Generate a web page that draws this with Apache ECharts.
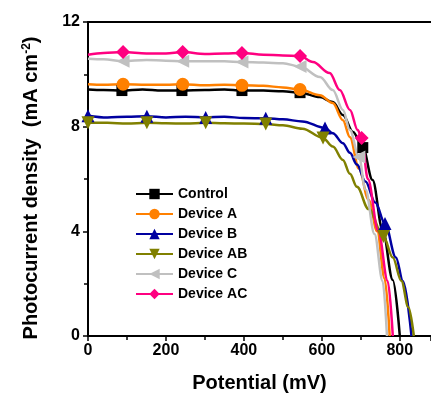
<!DOCTYPE html>
<html>
<head>
<meta charset="utf-8">
<script src="https://cdn.jsdelivr.net/npm/echarts@6/dist/echarts.min.js"></script>
<style>
  html, body { margin: 0; padding: 0; background: #fff; }
  #chart { width: 431px; height: 396px; }
</style>
</head>
<body>
<div id="chart"></div>
<script>
// J-V curves, potential in mV, current density in mA cm-2
const controlV = [0, 40, 87, 140, 190, 241, 300, 350, 395, 450, 500, 544, 595, 628, 654, 680, 705, 730, 756, 782, 800];
const controlJ = [9.42, 9.4, 9.38, 9.42, 9.38, 9.38, 9.4, 9.42, 9.38, 9.38, 9.35, 9.3, 9.13, 8.94, 8.45, 7.8, 7.2, 5.96, 4.05, 2.14, 0];
const controlMarks = [87, 241, 395, 544, 705];

const deviceAV = [0, 40, 90, 150, 200, 243, 300, 350, 395, 450, 500, 544, 595, 628, 654, 672, 695, 720, 742, 761, 774];
const deviceAJ = [9.62, 9.6, 9.62, 9.6, 9.6, 9.62, 9.58, 9.6, 9.58, 9.56, 9.5, 9.42, 9.2, 8.9, 8.25, 7.6, 6.4, 5.2, 4.0, 2.2, 0];
const deviceAMarks = [90, 243, 395, 544];

const deviceBV = [0, 50, 100, 151, 200, 250, 302, 350, 400, 456, 500, 550, 608, 628, 654, 672, 690, 712, 737, 762, 790, 808, 830];
const deviceBJ = [8.42, 8.35, 8.38, 8.4, 8.35, 8.38, 8.35, 8.38, 8.33, 8.32, 8.28, 8.2, 7.95, 7.75, 7.37, 7.0, 6.55, 5.9, 5.1, 4.3, 3.0, 2.1, 0];
const deviceBMarks = [0, 151, 302, 456, 608, 762];

const deviceABV = [0, 50, 100, 151, 200, 250, 302, 350, 400, 456, 500, 550, 603, 628, 654, 672, 690, 720, 758, 782, 804, 822, 836];
const deviceABJ = [8.15, 8.15, 8.12, 8.15, 8.13, 8.12, 8.15, 8.13, 8.12, 8.1, 8.05, 7.92, 7.57, 7.24, 6.73, 6.2, 5.7, 4.85, 3.8, 3.0, 2.1, 1.1, 0];
const deviceABMarks = [0, 151, 302, 456, 603, 758];

const deviceCV = [0, 40, 90, 150, 200, 243, 300, 350, 395, 450, 500, 544, 595, 628, 654, 672, 695, 712, 735, 756, 767];
const deviceCJ = [10.6, 10.58, 10.5, 10.55, 10.52, 10.5, 10.5, 10.5, 10.47, 10.45, 10.42, 10.3, 9.9, 9.4, 8.64, 7.87, 6.84, 5.6, 3.9, 2.1, 0];
const deviceCMarks = [90, 243, 395, 544, 695];

const deviceACV = [0, 40, 90, 150, 200, 243, 300, 350, 395, 450, 500, 544, 577, 620, 646, 672, 692, 702, 718, 745, 769, 782];
const deviceACJ = [10.75, 10.82, 10.85, 10.8, 10.8, 10.85, 10.78, 10.8, 10.82, 10.75, 10.72, 10.7, 10.47, 10.05, 9.4, 8.64, 7.87, 7.57, 6.0, 4.0, 2.1, 0];
const deviceACMarks = [90, 243, 395, 544, 702];

const xTicks = [0, 200, 400, 600, 800];
const yTicks = [0, 4, 8, 12];

const devices = [
  { name: "Control", v: controlV, j: controlJ, marks: controlMarks, color: "#000000", symbol: "rect", rotate: 0, size: 11 },
  { name: "Device A", v: deviceAV, j: deviceAJ, marks: deviceAMarks, color: "#FF8000", symbol: "circle", rotate: 0, size: 13 },
  { name: "Device B", v: deviceBV, j: deviceBJ, marks: deviceBMarks, color: "#0000A0", symbol: "triangle", rotate: 0, size: 13 },
  { name: "Device AB", v: deviceABV, j: deviceABJ, marks: deviceABMarks, color: "#808000", symbol: "triangle", rotate: 180, size: 13 },
  { name: "Device C", v: deviceCV, j: deviceCJ, marks: deviceCMarks, color: "#C0C0C0", symbol: "triangle", rotate: 90, size: 13 },
  { name: "Device AC", v: deviceACV, j: deviceACJ, marks: deviceACMarks, color: "#FF0080", symbol: "diamond", rotate: 0, size: 14 },
];

const font = "Liberation Sans, Arial, sans-serif";
const chart = echarts.init(document.getElementById("chart"));

let series = devices.map((d) => {
  return {
    name: d.name,
    type: "line",
    smooth: 0.35,
    smoothMonotone: "x",
    symbol: d.symbol,
    symbolSize: d.size,
    symbolRotate: d.rotate,
    showSymbol: true,
    color: d.color,
    lineStyle: { width: 2.5, color: d.color },
    itemStyle: { color: d.color },
    emphasis: { disabled: true },
    data: d.v.map((v, i) => ({
      value: [v, d.j[i]],
      symbol: d.marks.includes(v) ? d.symbol : "none",
    })),
  };
});

let option = {
  animation: false,
  grid: { left: 88, top: 22, right: 0, bottom: 60, outerBoundsMode: "none" },
  legend: {
    orient: "vertical",
    left: 135,
    top: 187,
    padding: 0,
    itemWidth: 37,
    itemHeight: 13,
    itemGap: 6,
    textStyle: { fontFamily: font, fontWeight: "bold", fontSize: 14, color: "#000" },
    data: devices.map((d) => d.name),
  },
  xAxis: [
    {
      type: "value",
      min: 0,
      max: 880,
      interval: 200,
      name: "Potential (mV)",
      nameLocation: "middle",
      nameGap: 37,
      nameTextStyle: { fontFamily: font, fontWeight: "bold", fontSize: 20, color: "#000" },
      axisLine: { lineStyle: { color: "#000", width: 2 } },
      axisTick: { length: 5, lineStyle: { width: 1.5, color: "#000" } },
      minorTick: { show: true, splitNumber: 2, length: 4, lineStyle: { width: 1.5, color: "#000" } },
      splitLine: { show: false },
      axisLabel: {
        margin: 7,
        fontFamily: font,
        fontWeight: "bold",
        fontSize: 16,
        color: "#000",
        formatter: (v) => (xTicks.includes(v) ? String(v) : ""),
      },
    },
    {
      type: "value",
      position: "top",
      min: 0,
      max: 880,
      axisLine: { show: true, lineStyle: { color: "#000", width: 2 } },
      axisTick: { show: false },
      axisLabel: { show: false },
      splitLine: { show: false },
    },
  ],
  yAxis: {
    type: "value",
    min: 0,
    max: 12,
    interval: 4,
    name: "{b|Photocurrent density  (mA cm}{s|-2}{b|)}",
    nameLocation: "middle",
    nameGap: 46,
    nameRotate: 90,
    nameTextStyle: {
      padding: [0, 18, 0, 0],
      rich: {
        b: { fontFamily: font, fontWeight: "bold", fontSize: 20, color: "#000" },
        s: { fontFamily: font, fontWeight: "bold", fontSize: 12, color: "#000", verticalAlign: "top", padding: [0, 0, 9, 0] },
      },
    },
    axisLine: { show: true, lineStyle: { color: "#000", width: 2 } },
    axisTick: { show: true, length: 5, lineStyle: { width: 1.5, color: "#000" } },
    minorTick: { show: true, splitNumber: 2, length: 4, lineStyle: { width: 1.5, color: "#000" } },
    splitLine: { show: false },
    axisLabel: {
      margin: 8,
      fontFamily: font,
      fontWeight: "bold",
      fontSize: 16,
      color: "#000",
      formatter: (v) => (yTicks.includes(v) ? String(v) : ""),
    },
  },
  series: series,
};

chart.setOption(option);
</script>
</body>
</html>
